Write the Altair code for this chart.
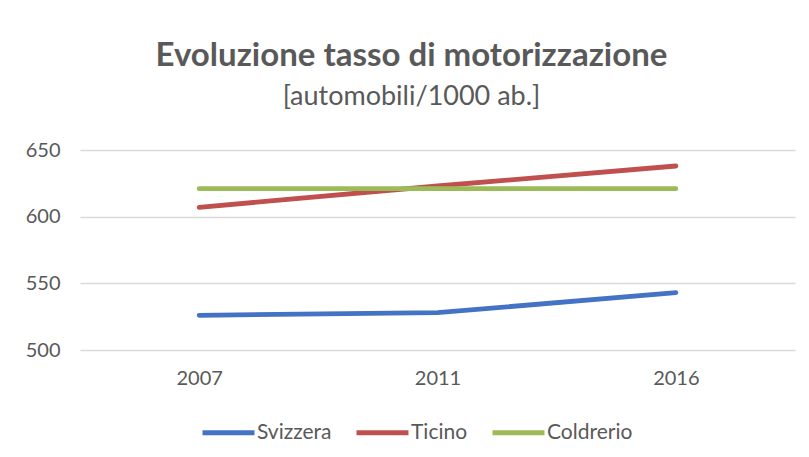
import altair as alt
import pandas as pd

years = ["2007", "2011", "2016"]
svizzera = [526, 528, 543]
ticino = [607, 623, 638]
coldrerio = [621, 621, 621]
series = ["Svizzera", "Ticino", "Coldrerio"]
colors = ["#4472C4", "#C0504D", "#9BBB59"]

rows = []
for name, vals in zip(series, [svizzera, ticino, coldrerio]):
    for y, v in zip(years, vals):
        rows.append({"anno": y, "valore": v, "serie": name})
df = pd.DataFrame(rows)

FONT = "Lato"
GREY = "#595959"

chart = alt.Chart(df).mark_line(strokeWidth=4.8, strokeCap="round").encode(
    x=alt.X("anno:O", title=None, sort=years,
            scale=alt.Scale(type="point", padding=0.5),
            axis=alt.Axis(labelAngle=0, domain=False, ticks=False, grid=False,
                          labelPadding=18, labelFontSize=20, labelColor=GREY, labelFont=FONT)),
    y=alt.Y("valore:Q", title=None,
            scale=alt.Scale(domain=[500, 650], nice=False, zero=False),
            axis=alt.Axis(values=[500, 550, 600, 650], domain=False, ticks=False,
                          gridColor="#D9D9D9", gridWidth=1.5,
                          labelPadding=20, labelFontSize=20, labelColor=GREY, labelFont=FONT)),
    color=alt.Color("serie:N", sort=series,
                    scale=alt.Scale(domain=series, range=colors),
                    legend=alt.Legend(title=None, orient="none", direction="horizontal",
                                      legendX=120, legendY=254,
                                      symbolType="stroke", symbolSize=2700, symbolStrokeWidth=5,
                                      labelFontSize=21, labelColor=GREY, labelFont=FONT,
                                      labelOffset=0, columnPadding=14)),
).properties(
    width=715,
    height=200,
    title=alt.TitleParams(
        text="Evoluzione tasso di motorizzazione",
        subtitle="[automobili/1000 ab.]",
        font=FONT, fontSize=33, fontWeight="bold", color=GREY,
        subtitleFont=FONT, subtitleFontSize=27, subtitleColor=GREY,
        subtitlePadding=11, anchor="middle", dx=-26, offset=30,
    ),
    autosize=alt.AutoSizeParams(type="none"),
    padding={"left": 72, "top": 142, "right": 6, "bottom": 99},
).configure_view(stroke=None)

chart.save("out.html", embed_options={"renderer": "svg", "actions": False})
